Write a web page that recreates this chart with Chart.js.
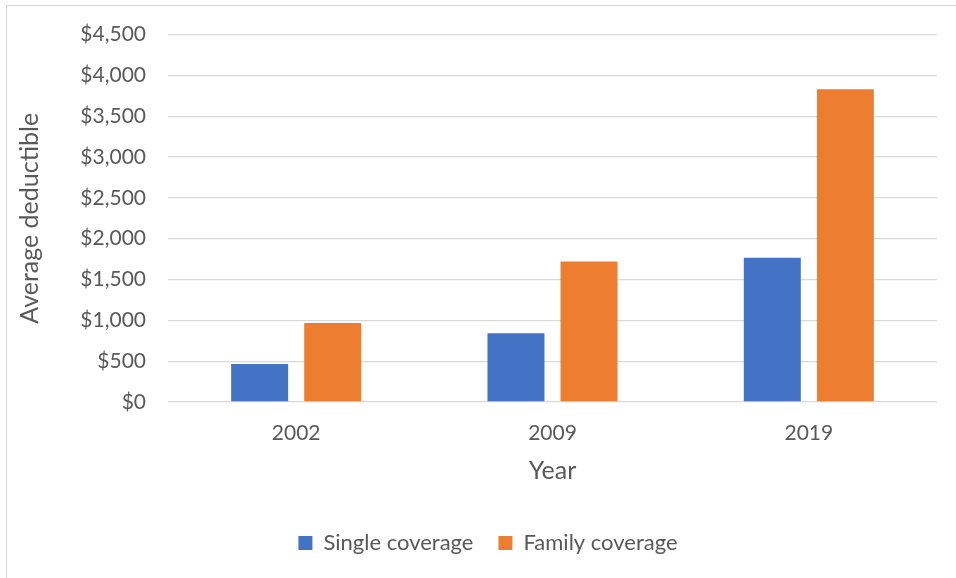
<!DOCTYPE html>
<html>
<head>
<meta charset="utf-8">
<script src="https://cdn.jsdelivr.net/npm/chart.js@4.4.1/dist/chart.umd.min.js"></script>
<style>
  html, body { margin: 0; padding: 0; background: #ffffff; overflow: hidden; }
  #frame { position: absolute; left: 6px; top: 5px; width: 2000px; height: 2000px;
           border-left: 1px solid #d6d6d6; border-top: 1px solid #d6d6d6; }
  #wrap { position: absolute; left: 0; top: 0; width: 956px; height: 578px; }
</style>
</head>
<body>
<div id="frame"></div>
<div id="wrap"><canvas id="c" width="956" height="578"></canvas></div>
<script>
const categories = ['2002', '2009', '2019'];
const singleCoverage = [466, 842, 1766];
const familyCoverage = [969, 1721, 3830];
const seriesNames = ['Single coverage', 'Family coverage'];
const yTicksMin = 0, yTicksMax = 4500, yTicksStep = 500;

const FONT = 'Lato';
const TXT = '#595959';

const legendShift = {
  id: 'legendShift',
  afterLayout(chart) {
    const lg = chart.legend;
    if (!lg) return;
    const dx = 12;
    lg.left += dx; lg.right += dx;
  }
};

new Chart(document.getElementById('c'), {
  type: 'bar',
  data: {
    labels: categories,
    datasets: [
      { label: seriesNames[0], data: singleCoverage, backgroundColor: '#4472C4',
        categoryPercentage: 0.57, barPercentage: 0.78 },
      { label: seriesNames[1], data: familyCoverage, backgroundColor: '#ED7D31',
        categoryPercentage: 0.57, barPercentage: 0.78 }
    ]
  },
  options: {
    responsive: false,
    animation: false,
    devicePixelRatio: 1,
    layout: { padding: { left: 15, right: 19, top: 34, bottom: 14 } },
    plugins: {
      tooltip: { enabled: false },
      legend: {
        position: 'bottom',
        labels: {
          color: TXT,
          font: { family: FONT, size: 22 },
          boxWidth: 14, boxHeight: 14,
          padding: 25
        }
      }
    },
    scales: {
      x: {
        grid: { display: false },
        border: { display: false },
        ticks: { color: TXT, font: { family: FONT, size: 21 }, padding: 11 },
        title: { display: true, text: 'Year', color: TXT,
                 font: { family: FONT, size: 25 }, padding: { top: 0, bottom: 21 } },
        afterFit(s) { s.height = 105; }
      },
      y: {
        min: yTicksMin, max: yTicksMax,
        grid: { color: '#d9d9d9', lineWidth: 1.3, drawTicks: false },
        border: { display: false },
        ticks: {
          stepSize: yTicksStep, color: TXT, padding: 22,
          font: { family: FONT, size: 21 },
          callback: v => '$' + Number(v).toLocaleString('en-US')
        },
        title: { display: true, text: 'Average deductible', color: TXT,
                 font: { family: FONT, size: 25 }, padding: { top: 0, bottom: 0 } },
        afterFit(s) { s.width = 153; }
      }
    }
  },
  plugins: [legendShift]
});
</script>
</body>
</html>
